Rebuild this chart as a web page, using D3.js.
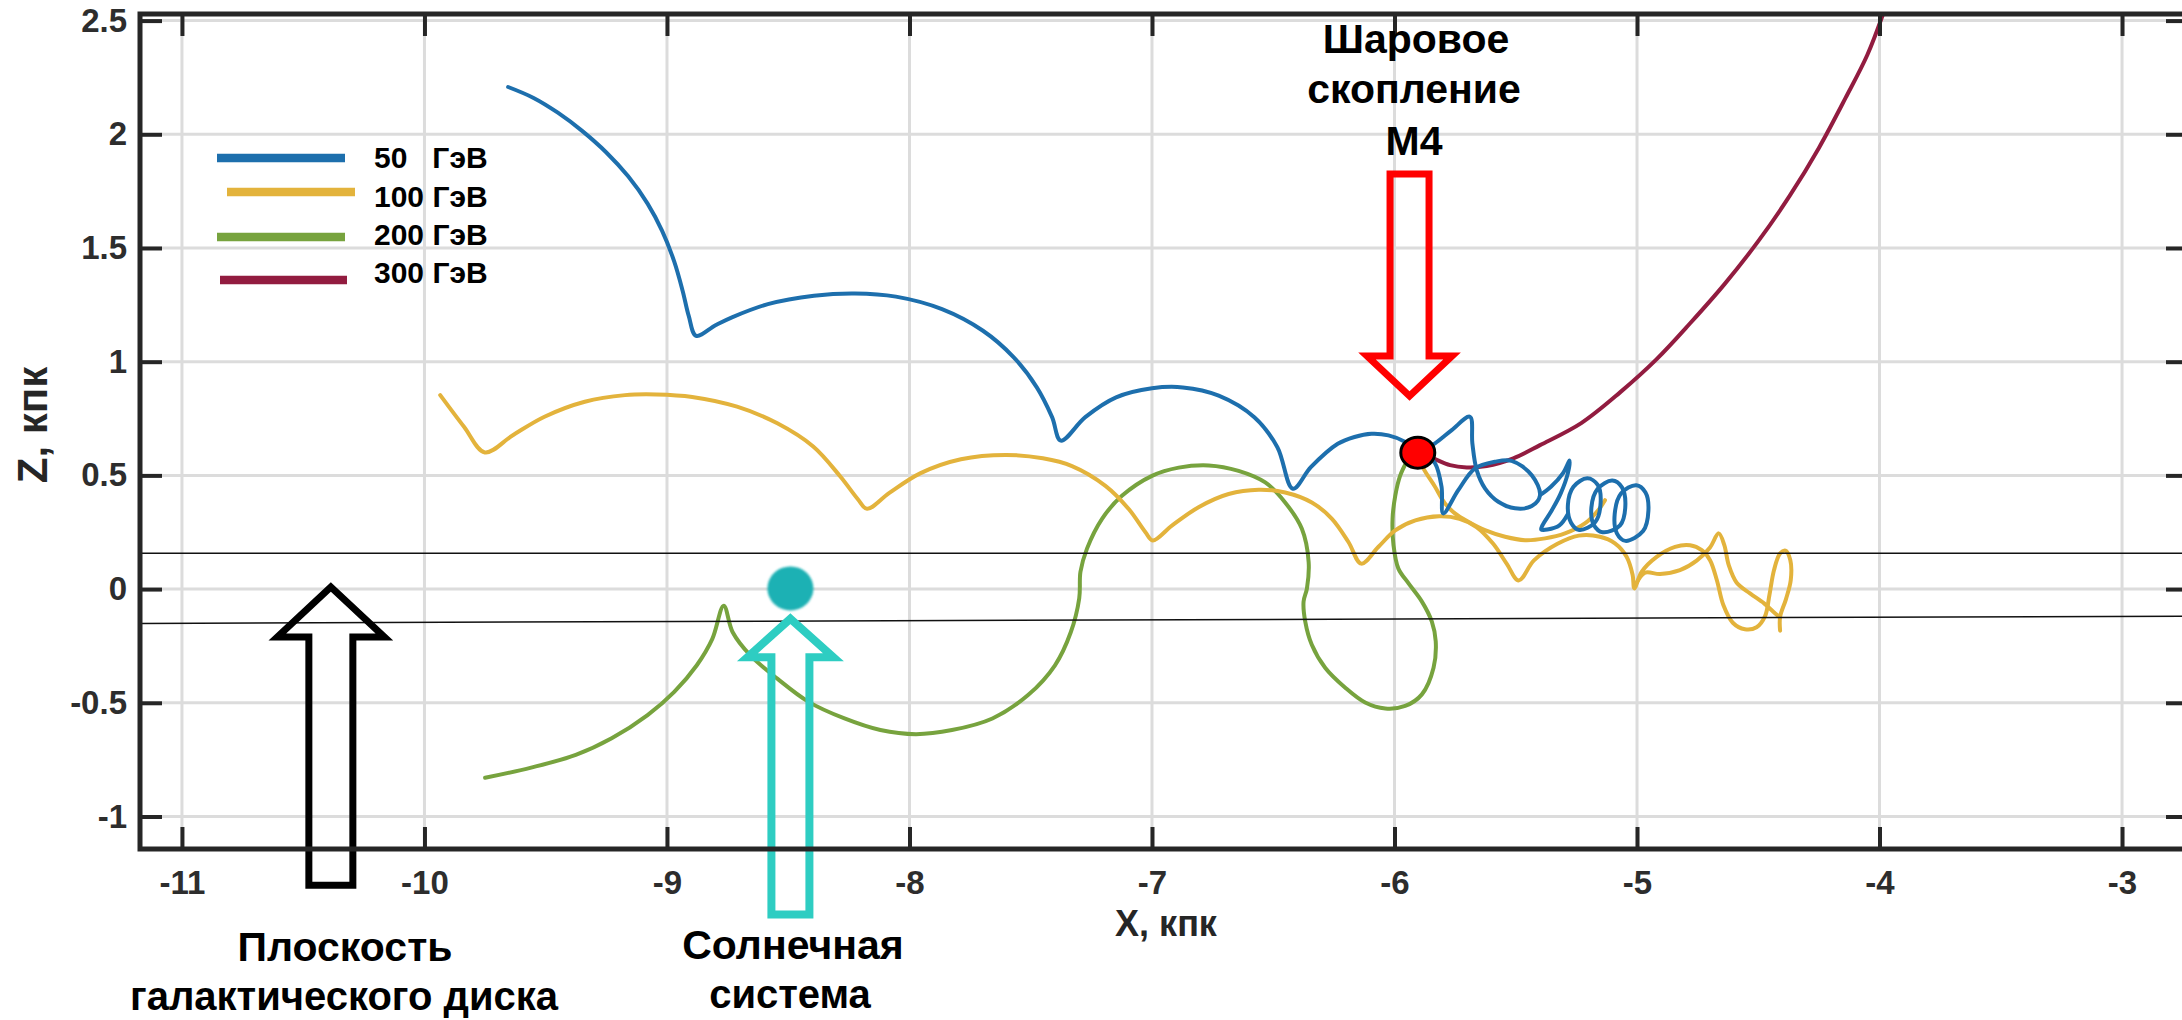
<!DOCTYPE html>
<html>
<head>
<meta charset="utf-8">
<script src="https://cdn.jsdelivr.net/npm/d3@7"></script>
<style>
  html, body { margin: 0; padding: 0; background: #fff; overflow: hidden; }
  svg { display: block; }
  text { font-family: "Liberation Sans", Arial, sans-serif; font-weight: bold; }
</style>
</head>
<body>
<svg id="chart" width="2182" height="1020"></svg>
<script>
// ---- data: particle trajectories in the X–Z plane, kpc ----
const seriesNames = ["50 ГэВ", "100 ГэВ", "200 ГэВ", "300 ГэВ"];
const legendLabels = ["50   ГэВ", "100 ГэВ", "200 ГэВ", "300 ГэВ"];

// open strands of each trajectory
const track50 = [
  [[-9.655,2.208],[-9.55,2.16],[-9.45,2.095],[-9.35,2.015],[-9.25,1.92],[-9.16,1.815],[-9.08,1.695],
   [-9.02,1.575],[-8.97,1.44],[-8.935,1.31],[-8.91,1.2],[-8.88,1.114],
   [-8.80,1.16],[-8.732,1.195],[-8.584,1.253],[-8.394,1.290],[-8.225,1.300],[-8.056,1.286],[-7.866,1.231],
   [-7.697,1.136],[-7.570,1.019],[-7.475,0.887],[-7.412,0.756],[-7.376,0.653],
   [-7.275,0.756],[-7.148,0.843],[-7.0,0.883],[-6.873,0.887],[-6.725,0.851],[-6.578,0.756],[-6.483,0.624],[-6.419,0.441],
   [-6.345,0.536],[-6.234,0.639],[-6.165,0.669],[-6.095,0.683],[-6.025,0.676],[-5.955,0.647],[-5.90,0.60],
   [-5.855,0.575],[-5.833,0.553],[-5.806,0.45],[-5.799,0.333],
   [-5.737,0.435],[-5.668,0.531],[-5.586,0.560],[-5.517,0.564],[-5.434,0.501],[-5.400,0.413],[-5.434,0.365],
   [-5.503,0.355],[-5.572,0.384],[-5.627,0.443],[-5.661,0.523],[-5.679,0.641],[-5.689,0.758],
   [-5.764,0.699],[-5.833,0.641],[-5.88,0.615]],
  [[-5.400,0.413],[-5.355,0.45],[-5.305,0.51],[-5.278,0.565],[-5.285,0.51],[-5.315,0.42],[-5.355,0.34],
   [-5.39,0.28],[-5.395,0.262],[-5.37,0.262],[-5.32,0.28],[-5.285,0.33]]
];
// closed gyration loops of the 50 GeV trajectory
const loops50 = [
  [[-5.238,0.26],[-5.272,0.292],[-5.285,0.37],[-5.262,0.45],[-5.205,0.487],[-5.162,0.458],[-5.150,0.38],[-5.172,0.295]],
  [[-5.142,0.25],[-5.178,0.282],[-5.188,0.36],[-5.163,0.44],[-5.102,0.477],[-5.062,0.447],[-5.048,0.37],[-5.07,0.28]],
  [[-5.048,0.212],[-5.083,0.245],[-5.092,0.33],[-5.066,0.42],[-5.003,0.457],[-4.965,0.425],[-4.953,0.345],[-4.975,0.255]]
];

const track100 = [
  [[-9.935,0.853],[-9.837,0.714],[-9.751,0.601],[-9.634,0.678],[-9.505,0.758],[-9.339,0.824],[-9.173,0.853],
   [-9.043,0.856],[-8.896,0.845],[-8.711,0.802],[-8.545,0.729],[-8.397,0.627],[-8.286,0.496],[-8.212,0.394],
   [-8.175,0.353],[-8.083,0.423],[-7.954,0.510],[-7.788,0.571],[-7.603,0.590],[-7.45,0.575],[-7.330,0.541],
   [-7.192,0.454],[-7.096,0.352],[-7.027,0.250],[-6.997,0.214],[-6.918,0.279],[-6.808,0.360],[-6.684,0.418],
   [-6.560,0.437],[-6.451,0.425],[-6.341,0.381],[-6.258,0.309],[-6.190,0.207],[-6.137,0.112],
   [-6.067,0.185],[-5.997,0.258],[-5.914,0.302],[-5.816,0.320],[-5.732,0.309],[-5.662,0.273],[-5.593,0.199],
   [-5.537,0.111],[-5.488,0.038],[-5.425,0.126],[-5.328,0.199],[-5.24,0.235],[-5.153,0.230],[-5.091,0.201],
   [-5.043,0.142],[-5.018,0.062],[-5.011,0.003],[-4.981,0.076],[-4.919,0.142],[-4.843,0.186],[-4.781,0.193],
   [-4.733,0.171],[-4.699,0.127],[-4.671,0.040],[-4.644,-0.070],[-4.605,-0.148],[-4.555,-0.177],[-4.507,-0.168],
   [-4.472,-0.119],[-4.454,-0.026],[-4.435,0.084],[-4.410,0.157],[-4.388,0.169],[-4.368,0.128],[-4.366,0.040],
   [-4.386,-0.045],[-4.410,-0.122],[-4.410,-0.183]],
  [[-5.905,0.59],[-5.881,0.531],[-5.833,0.45],[-5.792,0.377],[-5.751,0.333],[-5.696,0.296],[-5.627,0.259],
   [-5.544,0.230],[-5.462,0.215],[-5.379,0.223],[-5.297,0.245],[-5.215,0.289],[-5.160,0.347],[-5.132,0.391]],
  [[-5.004,0.022],[-4.967,0.072],[-4.905,0.066],[-4.823,0.083],[-4.754,0.125],[-4.699,0.183],[-4.663,0.245],
   [-4.640,0.193],[-4.622,0.106],[-4.589,0.028],[-4.534,-0.019],[-4.476,-0.063],[-4.438,-0.100],[-4.417,-0.119]]
];

const track200 = [
  [[-9.75,-0.83],[-9.56,-0.785],[-9.376,-0.729],[-9.228,-0.656],[-9.080,-0.554],[-8.970,-0.452],[-8.877,-0.335],
   [-8.813,-0.219],[-8.766,-0.073],[-8.729,-0.190],[-8.656,-0.292],[-8.545,-0.394],[-8.416,-0.496],[-8.268,-0.569],
   [-8.120,-0.620],[-7.973,-0.638],[-7.825,-0.620],[-7.658,-0.569],[-7.511,-0.466],[-7.400,-0.335],[-7.335,-0.190],
   [-7.30,-0.04],[-7.295,0.076],[-7.268,0.178],[-7.206,0.309],[-7.124,0.410],[-7.0,0.498],[-6.890,0.534],
   [-6.766,0.544],[-6.643,0.520],[-6.533,0.469],[-6.451,0.381],[-6.382,0.265],[-6.354,0.119],[-6.361,0.003],
   [-6.375,-0.055],[-6.368,-0.143],[-6.341,-0.245],[-6.286,-0.346],[-6.203,-0.434],[-6.121,-0.499],[-6.038,-0.525],
   [-5.956,-0.514],[-5.887,-0.463],[-5.839,-0.346],[-5.830,-0.230],[-5.846,-0.143],[-5.887,-0.055],[-5.942,0.025],
   [-5.984,0.090],[-6.004,0.192],[-6.008,0.309],[-5.997,0.410],[-5.977,0.498],[-5.945,0.57]]
];

const track300 = [
  [[-5.90,0.60],[-5.840,0.575],[-5.771,0.545],[-5.702,0.535],[-5.620,0.541],[-5.510,0.575],[-5.400,0.633],
   [-5.23,0.73],[-5.07,0.865],[-4.92,1.01],[-4.78,1.17],[-4.64,1.34],[-4.50,1.53],[-4.37,1.73],[-4.25,1.94],
   [-4.14,2.16],[-4.05,2.35],[-3.985,2.53]]
];

const tracks = [track50, track100, track200, track300];
const loops = [loops50, [], [], []];

// reference markers (kpc)
const sunPos = [-8.491, 0.003];
const clusterPos = [-5.904, 0.600];
const diskUpper = [[-11.173, 0.158], [-2.728, 0.158]];
const diskLower = [[-11.173, -0.151], [-2.728, -0.119]];

// axes
const xDomain = [-11.173, -2.728];
const zDomain = [-1.143, 2.529];
const xTicks = [-11, -10, -9, -8, -7, -6, -5, -4, -3];
const zTicks = [-1, -0.5, 0, 0.5, 1, 1.5, 2, 2.5];

// ---- drawing ----
const colors = ["#1d6fad", "#e3b33c", "#77a33e", "#921c40"];
const axisColor = "#262626";
const plot = { left: 140, right: 2188, top: 14, bottom: 849 };

const svg = d3.select("#chart");
const x = d3.scaleLinear().domain(xDomain).range([plot.left, plot.right]);
const z = d3.scaleLinear().domain(zDomain).range([plot.bottom, plot.top]);

svg.append("rect").attr("width", 2182).attr("height", 1020).attr("fill", "#fff");

const defs = svg.append("defs");
defs.append("clipPath").attr("id", "plotClip")
  .append("rect").attr("x", plot.left).attr("y", plot.top)
  .attr("width", plot.right - plot.left).attr("height", plot.bottom - plot.top);
defs.append("filter").attr("id", "soft")
  .append("feGaussianBlur").attr("stdDeviation", 0.8);

// grid
const grid = svg.append("g").attr("stroke", "#dcdcdc").attr("stroke-width", 3);
grid.selectAll(".gx").data(xTicks).join("line")
  .attr("x1", d => x(d)).attr("x2", d => x(d))
  .attr("y1", plot.top).attr("y2", plot.bottom);
grid.selectAll(".gz").data(zTicks).join("line")
  .attr("x1", plot.left).attr("x2", plot.right)
  .attr("y1", d => z(d)).attr("y2", d => z(d));

// trajectories
const line = d3.line()
  .x(d => x(d[0])).y(d => z(d[1]))
  .curve(d3.curveCatmullRom.alpha(0.5));
const loopLine = d3.line()
  .x(d => x(d[0])).y(d => z(d[1]))
  .curve(d3.curveCatmullRomClosed.alpha(0.5));

const data = svg.append("g").attr("clip-path", "url(#plotClip)");
// draw order: 300 behind, then 200, 100, 50 on top
[3, 2, 1, 0].forEach(i => {
  const g = data.append("g")
    .attr("fill", "none").attr("stroke", colors[i]).attr("stroke-width", 4)
    .attr("stroke-linejoin", "round").attr("stroke-linecap", "round");
  g.selectAll("path.strand").data(tracks[i]).join("path").attr("class", "strand").attr("d", line);
  g.selectAll("path.loop").data(loops[i]).join("path").attr("class", "loop").attr("d", loopLine);
});

// galactic disk boundaries
const straight = d3.line().x(d => x(d[0])).y(d => z(d[1]));
svg.append("g").attr("clip-path", "url(#plotClip)")
  .selectAll("path").data([diskUpper, diskLower]).join("path")
  .attr("d", straight).attr("fill", "none")
  .attr("stroke", "#111").attr("stroke-width", 1.5);

// Sun
svg.append("ellipse")
  .attr("cx", x(sunPos[0])).attr("cy", z(sunPos[1]))
  .attr("rx", 23).attr("ry", 22)
  .attr("fill", "#1fb1b4").attr("filter", "url(#soft)");

// globular cluster M4
svg.append("ellipse")
  .attr("cx", x(clusterPos[0])).attr("cy", z(clusterPos[1]))
  .attr("rx", 17).attr("ry", 15.5)
  .attr("fill", "#ff0000").attr("stroke", "#000").attr("stroke-width", 3);

// hollow block arrows; tip and tail given in data units, widths in px
function blockArrow(tip, tailZ, headHalf, headLen, shaftHalf, color, width) {
  const tx = x(tip[0]), ty = z(tip[1]), by = z(tailZ);
  const dir = by > ty ? 1 : -1;            // 1: arrow points up, -1: points down
  const hy = ty + dir * headLen;
  const pts = [
    [tx, ty], [tx + headHalf, hy], [tx + shaftHalf, hy], [tx + shaftHalf, by],
    [tx - shaftHalf, by], [tx - shaftHalf, hy], [tx - headHalf, hy]
  ];
  svg.append("polygon")
    .attr("points", pts.map(p => p.join(",")).join(" "))
    .attr("fill", "none").attr("stroke", color)
    .attr("stroke-width", width).attr("stroke-linejoin", "miter")
    .attr("stroke-miterlimit", 10);
}
blockArrow([-10.386, 0.009], -1.302, 53.5, 50, 22, "#000", 7);
blockArrow([-8.491, -0.130], -1.431, 43, 38.5, 19, "#2ecdc2", 8);
blockArrow([-5.938, 0.849], 1.825, 42.5, 40, 19.5, "#ff0000", 7);

// axes
const fmt = d => String(d);
function styleAxis(g) {
  g.select(".domain").remove();
  g.selectAll(".tick line").attr("stroke", axisColor).attr("stroke-width", 4);
  g.selectAll(".tick text").attr("fill", "#2d2d2d").attr("font-size", 33)
    .attr("font-family", "'Liberation Sans', Arial, sans-serif").attr("font-weight", "bold");
}
svg.append("g").attr("transform", `translate(0,${plot.bottom})`)
  .call(d3.axisBottom(x).tickValues(xTicks).tickFormat(fmt).tickSizeInner(-22).tickSizeOuter(0).tickPadding(22))
  .call(styleAxis);
svg.append("g").attr("transform", `translate(${plot.left},0)`)
  .call(d3.axisLeft(z).tickValues(zTicks).tickFormat(fmt).tickSizeInner(-22).tickSizeOuter(0).tickPadding(13))
  .call(styleAxis);
svg.append("g").attr("transform", `translate(0,${plot.top})`)
  .call(d3.axisTop(x).tickValues(xTicks).tickFormat("").tickSizeInner(-22).tickSizeOuter(0))
  .call(styleAxis);
svg.append("g").attr("transform", `translate(${plot.right},0)`)
  .call(d3.axisRight(z).tickValues(zTicks).tickFormat("").tickSizeInner(-22).tickSizeOuter(0))
  .call(styleAxis);
svg.append("rect")
  .attr("x", plot.left).attr("y", plot.top)
  .attr("width", plot.right - plot.left).attr("height", plot.bottom - plot.top)
  .attr("fill", "none").attr("stroke", axisColor).attr("stroke-width", 5);

// axis titles
svg.append("text").attr("x", 1166).attr("y", 936).attr("text-anchor", "middle")
  .attr("font-size", 36).attr("fill", axisColor).text("X, кпк");
svg.append("text").attr("transform", "translate(47,425) rotate(-90)").attr("text-anchor", "middle")
  .attr("font-size", 42).attr("fill", axisColor).text("Z, кпк");

// legend
const legendRows = [
  { x1: 217, x2: 345, ly: 158, ty: 168 },
  { x1: 227, x2: 355, ly: 192, ty: 207 },
  { x1: 217, x2: 345, ly: 237, ty: 245 },
  { x1: 220, x2: 347, ly: 280, ty: 283 }
];
const legend = svg.append("g");
legendRows.forEach((r, i) => {
  legend.append("line").attr("x1", r.x1).attr("x2", r.x2).attr("y1", r.ly).attr("y2", r.ly)
    .attr("stroke", colors[i]).attr("stroke-width", 8.5);
  legend.append("text").attr("x", 374).attr("y", r.ty)
    .attr("font-size", 30).attr("fill", "#000")
    .style("white-space", "pre").attr("xml:space", "preserve")
    .text(legendLabels[i]);
});

// annotation captions
const captions = [
  { t: "Шаровое", x: 1416, y: 53, s: 41 },
  { t: "скопление", x: 1414, y: 103, s: 41 },
  { t: "M4", x: 1414, y: 155, s: 41 },
  { t: "Плоскость", x: 345, y: 961, s: 41 },
  { t: "галактического диска", x: 344, y: 1010, s: 40 },
  { t: "Солнечная", x: 793, y: 959, s: 41 },
  { t: "система", x: 790, y: 1008, s: 40 }
];
svg.append("g").selectAll("text").data(captions).join("text")
  .attr("x", d => d.x).attr("y", d => d.y)
  .attr("text-anchor", "middle").attr("font-size", d => d.s).attr("fill", "#000")
  .text(d => d.t);
</script>
</body>
</html>
